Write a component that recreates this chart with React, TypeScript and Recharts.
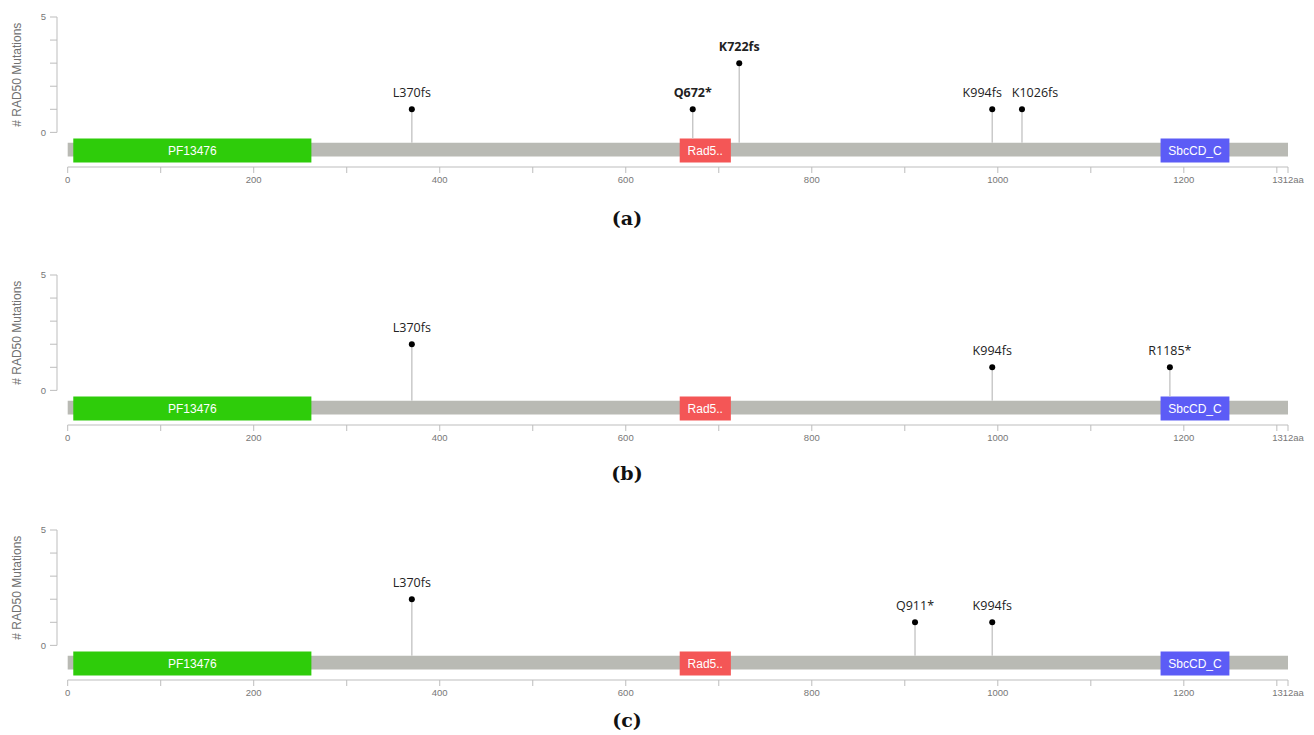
import React from 'react';
import { ComposedChart, XAxis, YAxis, Scatter, ReferenceArea, ReferenceLine, Label } from 'recharts';

const PROTEIN_LENGTH = 1312;

// pfam domains along RAD50
const domainNames = ['PF13476', 'Rad5..', 'SbcCD_C'];
const domainStarts = [6, 658, 1175];
const domainEnds = [262, 713, 1249];
const domainColors = ['#2ecc0a', '#f45656', '#5c5cf6'];

// (a)
const mutationsA = ['L370fs', 'Q672*', 'K722fs', 'K994fs', 'K1026fs'];
const positionsA = [370, 672, 722, 994, 1026];
const countsA = [1, 1, 3, 1, 1];

// (b)
const mutationsB = ['L370fs', 'K994fs', 'R1185*'];
const positionsB = [370, 994, 1185];
const countsB = [2, 1, 1];

// (c)
const mutationsC = ['L370fs', 'Q911*', 'K994fs'];
const positionsC = [370, 911, 994];
const countsC = [2, 1, 1];

const xTicks = [0, 100, 200, 300, 400, 500, 600, 700, 800, 900, 1000, 1100, 1200, 1300, 1312];
const yTicks = [0, 1, 2, 3, 4, 5];

const Y_MIN = -1.5;
const Y_MAX = 5;
const X_MIN = -11.5;
const BAR_TOP = -0.45;
const BAR_BOTTOM = -1.05;
const BOX_TOP = -0.26;
const BOX_BOTTOM = -1.3;

const axisGrey = '#bdbdbd';
const sans = "'Liberation Sans', Arial, sans-serif";

const YTitle = (props: any) => {
  const vb = props.viewBox || { x: 0, y: 17, width: 57, height: 150 };
  const cx = vb.x + 17;
  const cy = vb.y + (vb.height * (Y_MAX / (Y_MAX - Y_MIN))) / 2;
  return (
    <text
      x={cx}
      y={cy}
      transform={`rotate(-90, ${cx}, ${cy})`}
      textAnchor="middle"
      dominantBaseline="central"
      fontSize={12}
      fill="#707070"
      fontFamily={sans}
    >
      # RAD50 Mutations
    </text>
  );
};

const makePin = (bold: string[], shift: Record<string, number>) => (p: any) => {
  const { cx, cy, payload } = p;
  const name = payload.name;
  return (
    <g>
      <circle cx={cx} cy={cy} r={3} fill="#000" />
      <text
        x={cx + (shift[name] || 0)}
        y={cy - 12}
        textAnchor="middle"
        fontSize={12.5}
        fontFamily="'Open Sans', sans-serif"
        fontWeight={bold.includes(name) ? 700 : 400}
        fill="#222"
      >
        {name}
      </text>
    </g>
  );
};

// stem stops at the top of whatever it lands on
const stemBase = (pos: number) =>
  domainStarts.some((s, i) => pos >= s && pos <= domainEnds[i]) ? BOX_TOP : BAR_TOP;

interface PanelProps {
  names: string[];
  positions: number[];
  counts: number[];
  top: number;
  bold?: string[];
  shift?: Record<string, number>;
}

function LollipopPanel({ names, positions, counts, top, bold = [], shift = {} }: PanelProps) {
  const data = names.map((name, i) => ({ name, x: positions[i], y: counts[i] }));

  return (
    <div style={{ position: 'absolute', left: 0, top }}>
      <ComposedChart width={1314} height={200} margin={{ top: 17, right: 26, bottom: 3, left: 0 }}>
        <XAxis
          type="number"
          dataKey="x"
          domain={[X_MIN, PROTEIN_LENGTH]}
          allowDataOverflow
          ticks={xTicks}
          interval={0}
          axisLine={false}
          tickLine={{ stroke: axisGrey }}
          tickSize={6}
          tickMargin={3}
          height={30}
          tick={{ fontSize: 9.5, fill: '#777', fontFamily: sans }}
          tickFormatter={(v: number) => (v === PROTEIN_LENGTH ? '1312aa' : v % 200 === 0 ? String(v) : '')}
        />
        <YAxis
          type="number"
          dataKey="y"
          domain={[Y_MIN, Y_MAX]}
          allowDataOverflow
          ticks={yTicks}
          interval={0}
          axisLine={false}
          tickLine={{ stroke: axisGrey }}
          tickSize={7}
          tickMargin={4}
          width={57}
          tick={{ fontSize: 9.5, fill: '#777', fontFamily: sans }}
          tickFormatter={(v: number) => (v === 0 || v === 5 ? String(v) : '')}
        >
          <Label content={YTitle} />
        </YAxis>

        {/* axes drawn as segments so they only span 0..5 and 0..1312 */}
        <ReferenceLine
          segment={[{ x: X_MIN, y: 0 }, { x: X_MIN, y: Y_MAX }]}
          stroke={axisGrey}
          ifOverflow="visible"
        />
        <ReferenceLine
          segment={[{ x: 0, y: Y_MIN }, { x: PROTEIN_LENGTH, y: Y_MIN }]}
          stroke={axisGrey}
          ifOverflow="visible"
        />

        {/* stems */}
        {data.map((d) => (
          <ReferenceLine
            key={`stem-${d.name}`}
            segment={[{ x: d.x, y: stemBase(d.x) }, { x: d.x, y: d.y }]}
            stroke="#c6c6c6"
            strokeWidth={1.4}
            ifOverflow="visible"
          />
        ))}

        {/* protein backbone + domains */}
        <ReferenceArea
          x1={0}
          x2={PROTEIN_LENGTH}
          y1={BAR_BOTTOM}
          y2={BAR_TOP}
          fill="#b9bab4"
          fillOpacity={1}
          stroke="none"
          ifOverflow="visible"
        />
        {domainNames.map((name, i) => (
          <ReferenceArea
            key={name}
            x1={domainStarts[i]}
            x2={domainEnds[i]}
            y1={BOX_BOTTOM}
            y2={BOX_TOP}
            fill={domainColors[i]}
            fillOpacity={1}
            stroke="none"
            ifOverflow="visible"
            label={{ value: name, position: 'center', fill: '#fff', fontSize: 12, fontFamily: sans }}
          />
        ))}

        <Scatter data={data} dataKey="y" shape={makePin(bold, shift)} isAnimationActive={false} />
      </ComposedChart>
    </div>
  );
}

const tagStyle = (centerY: number): React.CSSProperties => ({
  position: 'absolute',
  left: 0,
  width: 1254,
  top: centerY - 13,
  height: 26,
  lineHeight: '26px',
  textAlign: 'center',
  fontFamily: "'DejaVu Serif', serif",
  fontWeight: 700,
  fontSize: 19,
  color: '#111',
});

export default function App() {
  return (
    <div style={{ position: 'absolute', left: 0, top: 0, width: 1314, height: 735, background: '#fff' }}>
      <LollipopPanel
        names={mutationsA}
        positions={positionsA}
        counts={countsA}
        top={0}
        bold={['Q672*', 'K722fs']}
        shift={{ K994fs: -10, K1026fs: 13 }}
      />
      <div style={tagStyle(218)}>(a)</div>

      <LollipopPanel names={mutationsB} positions={positionsB} counts={countsB} top={258} />
      <div style={tagStyle(473)}>(b)</div>

      <LollipopPanel names={mutationsC} positions={positionsC} counts={countsC} top={513} />
      <div style={tagStyle(720)}>(c)</div>
    </div>
  );
}
